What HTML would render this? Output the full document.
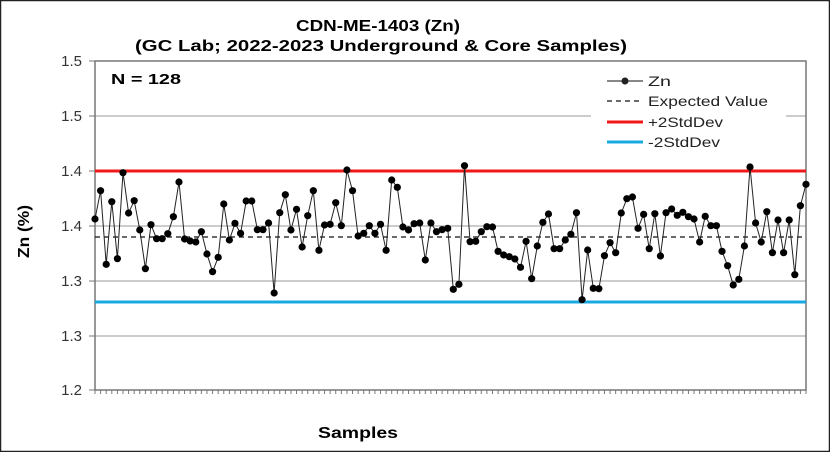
<!DOCTYPE html>
<html><head><meta charset="utf-8"><style>
body{margin:0;background:#fff}
svg{display:block;font-family:"Liberation Sans",Arial,sans-serif}
</style></head><body>
<svg id="s" width="830" height="452" viewBox="0 0 830 452" xmlns="http://www.w3.org/2000/svg">
<rect x="0.5" y="0.5" width="829" height="451" fill="#fff" stroke="#222" stroke-width="1.5"/>
<text x="296" y="31" font-size="16" font-weight="bold" textLength="164" lengthAdjust="spacingAndGlyphs">CDN-ME-1403 (Zn)</text>
<text x="135" y="51" font-size="16" font-weight="bold" textLength="492" lengthAdjust="spacingAndGlyphs">(GC Lab; 2022-2023 Underground &amp; Core Samples)</text>
<g stroke="#999" stroke-width="1">
<line x1="95" y1="116" x2="806" y2="116"/><line x1="95" y1="171" x2="806" y2="171"/>
<line x1="95" y1="226" x2="806" y2="226"/><line x1="95" y1="281" x2="806" y2="281"/>
<line x1="95" y1="336" x2="806" y2="336"/>
</g>
<rect x="591" y="64" width="195" height="86" fill="#fff"/>
<rect x="95" y="61" width="711" height="329" fill="none" stroke="#777" stroke-width="1.5"/>
<g font-size="15" fill="#333" text-anchor="end">
<text x="82" y="66">1.5</text><text x="82" y="121">1.5</text><text x="82" y="176">1.4</text>
<text x="82" y="231">1.4</text><text x="82" y="286">1.3</text><text x="82" y="341">1.3</text><text x="82" y="395">1.2</text>
</g>
<g stroke="#777"><line x1="89" y1="61" x2="95" y2="61"/><line x1="89" y1="116" x2="95" y2="116"/><line x1="89" y1="171" x2="95" y2="171"/><line x1="89" y1="226" x2="95" y2="226"/><line x1="89" y1="281" x2="95" y2="281"/><line x1="89" y1="336" x2="95" y2="336"/><line x1="89" y1="390" x2="95" y2="390"/></g>
<text transform="translate(29,258) rotate(-90)" font-size="16" font-weight="bold" textLength="53" lengthAdjust="spacingAndGlyphs">Zn (%)</text>
<text x="318" y="438" font-size="16" font-weight="bold" textLength="80" lengthAdjust="spacingAndGlyphs">Samples</text>
<text x="111" y="84" font-size="15" font-weight="bold" textLength="70" lengthAdjust="spacingAndGlyphs">N = 128</text>
<line x1="95" y1="171" x2="806" y2="171" stroke="#f01818" stroke-width="3"/>
<line x1="95" y1="302" x2="806" y2="302" stroke="#1aa8e0" stroke-width="3"/>
<line x1="95" y1="237" x2="806" y2="237" stroke="#111" stroke-width="1.3" stroke-dasharray="5,4"/>
<g id="ticks" stroke="#777"></g>
<g id="ser"></g>
<g font-size="14" fill="#222">
<line x1="607" y1="81" x2="643" y2="81" stroke="#111" stroke-width="1"/><circle cx="625" cy="81" r="3.5"/>
<text x="648" y="86" textLength="23" lengthAdjust="spacingAndGlyphs">Zn</text>
<line x1="607" y1="101" x2="643" y2="101" stroke="#111" stroke-width="1.3" stroke-dasharray="5,4"/>
<text x="648" y="106" textLength="120" lengthAdjust="spacingAndGlyphs">Expected Value</text>
<line x1="607" y1="122" x2="643" y2="122" stroke="#f01818" stroke-width="3"/>
<text x="648" y="127" textLength="75" lengthAdjust="spacingAndGlyphs">+2StdDev</text>
<line x1="607" y1="142" x2="643" y2="142" stroke="#1aa8e0" stroke-width="3"/>
<text x="648" y="147" textLength="72" lengthAdjust="spacingAndGlyphs">-2StdDev</text>
</g>
</svg>
<script>
var a=[537,452,673,485,656,398,519,482,570,686,554,596,596,581,530,426,597,603,606,575,642,695,652,492,600,550,580,483,483,569,569,549,759,518,464,570,508,621,527,452,631,555,553,488,557,390,452,588,580,557,580,553,631,420,442,561,570,551,
549,660,549,575,569,565,748,733,377,605,604,575,560,561,634,645,650,657,682,604,716,618,547,522,626,626,600,583,518,779,630,745,746,647,608,638,519,476,471,565,523,626,521,648,518,507,526,517,530,537,606,529,557,557,634,677,735,718,618,381,549,606,515,638,540,638,540,704,497,433];
var ns="http://www.w3.org/2000/svg",g=document.getElementById("ser"),t=document.getElementById("ticks");
var pts=[];
for(var i=0;i<a.length;i++){var x=95+i*711/(a.length-1),y=40+a[i]/3;pts.push(x.toFixed(1)+","+y.toFixed(1));
var c=document.createElementNS(ns,"circle");c.setAttribute("cx",x);c.setAttribute("cy",y);c.setAttribute("r",3.6);c.setAttribute("fill","#000");g.appendChild(c);
var l=document.createElementNS(ns,"line");l.setAttribute("x1",x);l.setAttribute("x2",x);l.setAttribute("y1",390);l.setAttribute("y2",394);t.appendChild(l);}
var p=document.createElementNS(ns,"polyline");p.setAttribute("points",pts.join(" "));p.setAttribute("fill","none");p.setAttribute("stroke","#222");p.setAttribute("stroke-width","1");g.insertBefore(p,g.firstChild);
</script>
</body></html>
